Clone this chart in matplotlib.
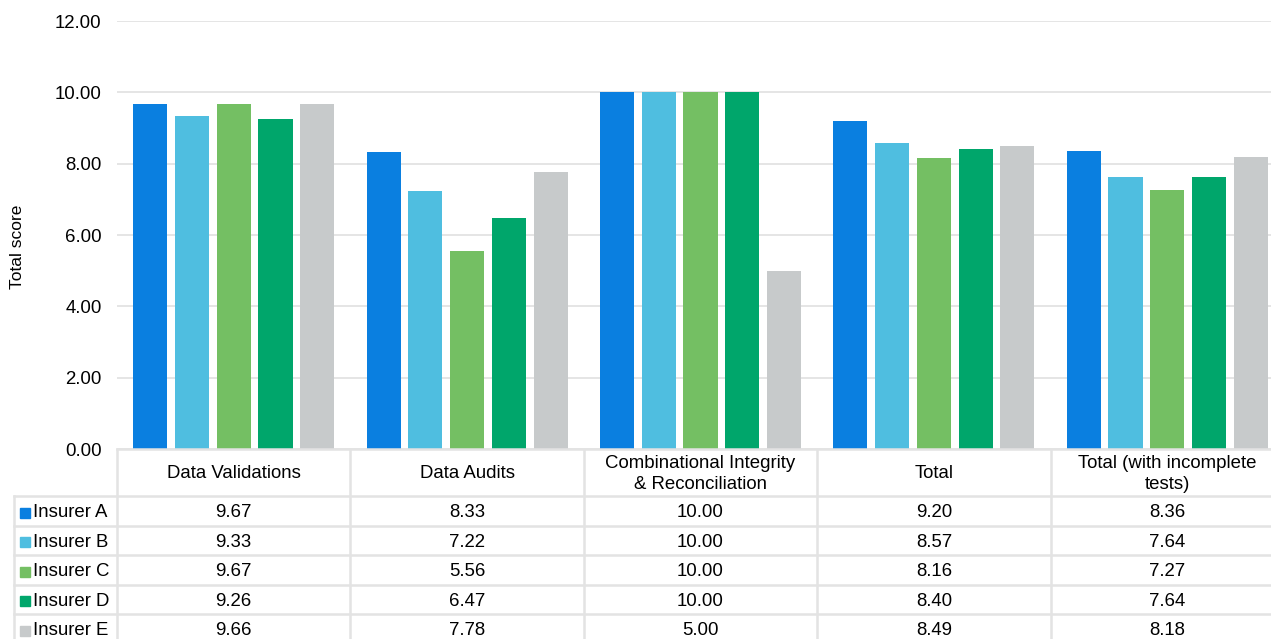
import matplotlib.pyplot as plt
import numpy as np

plt.rcParams['font.family'] = ['Liberation Sans', 'DejaVu Sans']

categories = ["Data Validations", "Data Audits", "Combinational Integrity\n& Reconciliation",
              "Total", "Total (with incomplete\ntests)"]
insurers = ["Insurer A", "Insurer B", "Insurer C", "Insurer D", "Insurer E"]
scores_a = [9.67, 8.33, 10.00, 9.20, 8.36]
scores_b = [9.33, 7.22, 10.00, 8.57, 7.64]
scores_c = [9.67, 5.56, 10.00, 8.16, 7.27]
scores_d = [9.26, 6.47, 10.00, 8.40, 7.64]
scores_e = [9.66, 7.78, 5.00, 8.49, 8.18]
series = [scores_a, scores_b, scores_c, scores_d, scores_e]
colors = ["#0A7FE0", "#4FBEE0", "#74BF63", "#00A66B", "#C7CACB"]

W, H = 1271, 639
fig = plt.figure(figsize=(W / 100, H / 100), dpi=100)

# plot area runs a little past the right edge of the image, as in the original
left, right = 117, 1284
top, bottom = 21, 449
ax = fig.add_axes([left / W, 1 - bottom / H, (right - left) / W, (bottom - top) / H])

x = np.arange(len(categories))
step = 0.179
width = 0.146
for i, (vals, col) in enumerate(zip(series, colors)):
    ax.bar(x + (i - 2) * step, vals, width, color=col, label=insurers[i], zorder=3)

ax.set_xlim(-0.5, len(categories) - 0.5)
ax.set_ylim(0, 12)
ax.set_yticks(np.arange(0, 13, 2))
ax.set_yticklabels([f"{v:.2f}" for v in np.arange(0, 13, 2)])
ax.yaxis.grid(True, color="#E3E3E3", linewidth=1.3, zorder=0)
ax.tick_params(axis="y", length=0, labelsize=13.4, pad=11)
ax.set_xticks([])
for s in ax.spines.values():
    s.set_visible(False)
ax.set_ylabel("Total score", fontsize=12.5)
ax.yaxis.set_label_coords(-0.079, 0.472)

# data table below the chart, drawn in pixel coordinates
tab = fig.add_axes([0, 0, 1, 1], facecolor="none")
tab.set_xlim(0, W)
tab.set_ylim(H, 0)
tab.axis("off")

grid_col = "#E3E3E3"
col_edges = np.linspace(left, right, len(categories) + 1)
header_bottom = 496
row_h = 29.5
row_edges = [header_bottom + k * row_h for k in range(len(insurers) + 1)]
lw = 1.8
fs = 13.4

tab.plot([left, right], [bottom, bottom], color=grid_col, lw=lw)
for cx in col_edges:
    tab.plot([cx, cx], [bottom, row_edges[-1]], color=grid_col, lw=lw)
tab.plot([14, 14], [header_bottom, row_edges[-1]], color=grid_col, lw=lw)
for ry in row_edges:
    tab.plot([14, right], [ry, ry], color=grid_col, lw=lw)

for j, cat in enumerate(categories):
    cx = (col_edges[j] + col_edges[j + 1]) / 2
    tab.text(cx, (bottom + header_bottom) / 2 + 1.5, cat, ha="center", va="center",
             fontsize=fs, linespacing=1.3)

for i, name in enumerate(insurers):
    cy = (row_edges[i] + row_edges[i + 1]) / 2 + 2
    tab.add_patch(plt.Rectangle((20, cy - 5), 10, 10, color=colors[i]))
    tab.text(33, cy, name, ha="left", va="center", fontsize=fs)
    for j in range(len(categories)):
        cx = (col_edges[j] + col_edges[j + 1]) / 2
        tab.text(cx, cy, f"{series[i][j]:.2f}", ha="center", va="center", fontsize=fs)

fig.savefig("out.png", dpi=100)
